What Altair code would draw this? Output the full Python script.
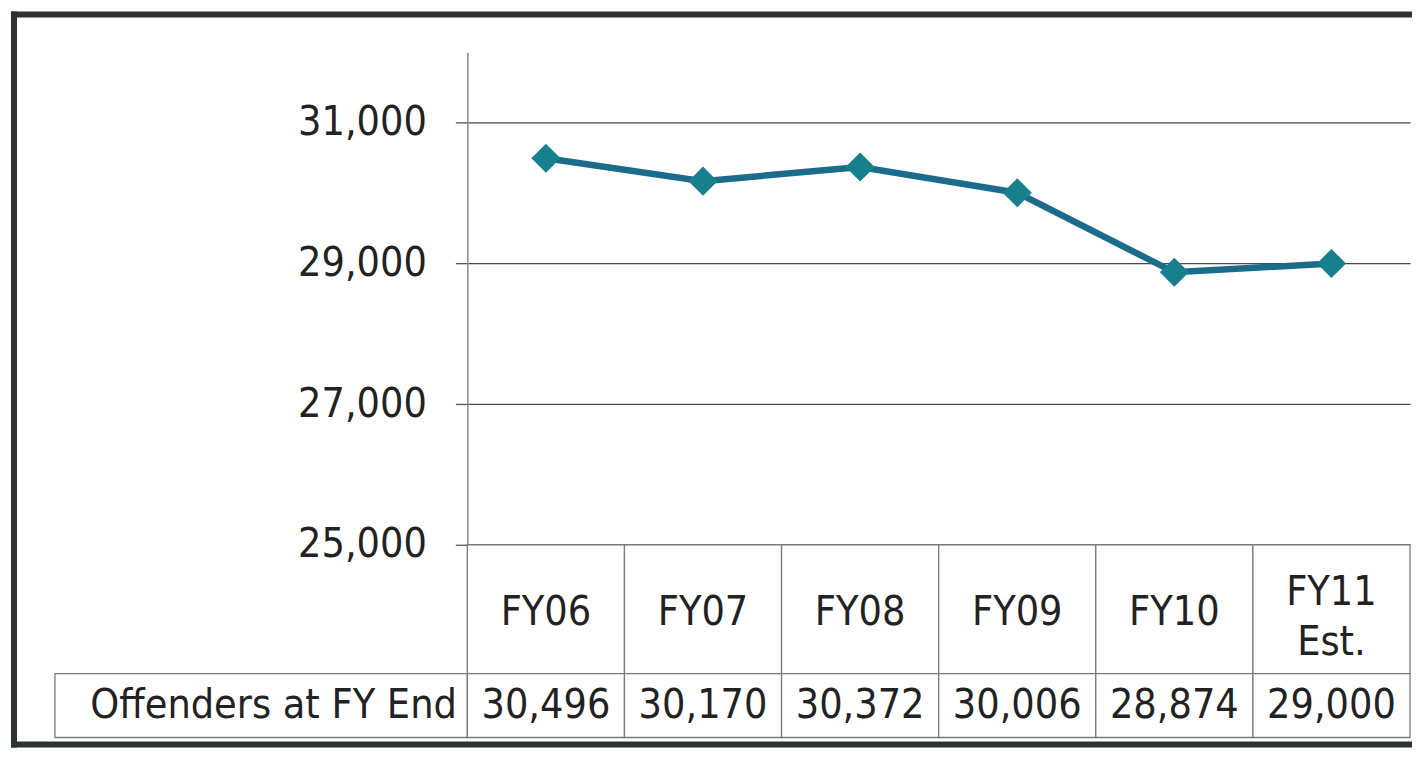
import altair as alt
import pandas as pd

# ---- data ----
categories = ["FY06", "FY07", "FY08", "FY09", "FY10", "FY11 Est."]
header_labels = ["FY06", "FY07", "FY08", "FY09", "FY10", "FY11\nEst."]
header_lines = [1, 1, 1, 1, 1, 2]
offenders = [30496, 30170, 30372, 30006, 28874, 29000]
y_ticks = [25000, 27000, 29000, 31000]
row_label = "Offenders at FY End"

df = pd.DataFrame({
    "cat": categories,
    "head": header_labels,
    "nlines": header_lines,
    "value": offenders,
    "row": [row_label] * len(categories),
})

# ---- style ----
FONT = "DejaVu Sans Condensed, Liberation Sans, sans-serif"
FS = 41
TXT = "#222222"
CELL = "#7a7a7a"
LINE_C = "#1b6c8a"
PT_C = "#17808d"
FRAME = "#2c3134"

W = 944
MAIN_H = 493
HEAD_H = 129
VAL_H = 64
TOTAL_H = MAIN_H + HEAD_H + VAL_H

band = alt.Scale(type="band", paddingInner=0, paddingOuter=0)

# ---- main line chart ----
xm = alt.X("cat:N", sort=categories, scale=alt.Scale(type="point", padding=0.5), axis=None)
ym = alt.Y(
    "value:Q",
    scale=alt.Scale(domain=[25000, 32000], nice=False, zero=False),
    axis=alt.Axis(
        values=y_ticks, format=",.0f", title=None, grid=True, gridColor="#4a4a4a",
        gridWidth=1.3, domainColor="#8a8a8a", domainWidth=1.5, tickColor="#555555",
        tickSize=12, tickWidth=1.3, labelFontSize=FS, labelFont=FONT,
        labelColor=TXT, labelPadding=29, labelLimit=0,
    ),
)
base = alt.Chart(df)
line = base.mark_line(color=LINE_C, strokeWidth=6.5).encode(x=xm, y=ym)
pts = base.mark_point(shape="diamond", filled=True, size=850, color=PT_C, opacity=1).encode(x=xm, y=ym)

one = pd.DataFrame({"k": [0]})
fr = alt.Chart(one)
top_rule = fr.mark_rule(color=FRAME, strokeWidth=6).encode(
    x=alt.value(-457), x2=alt.value(946), y=alt.value(-38))
left_rule = fr.mark_rule(color=FRAME, strokeWidth=6).encode(
    x=alt.value(-454), y=alt.value(-41), y2=alt.value(TOTAL_H + 10))
bot_rule = fr.mark_rule(color=FRAME, strokeWidth=6).encode(
    x=alt.value(-457), x2=alt.value(946), y=alt.value(TOTAL_H + 7))

main = alt.layer(top_rule, left_rule, bot_rule, line, pts).properties(width=W, height=MAIN_H)

# ---- header row of the data table ----
xb = alt.X("cat:N", sort=categories, scale=band, axis=None)
hb = alt.Chart(df)
head_cells = hb.mark_rect(fill="white", stroke=CELL, strokeWidth=1.3).encode(
    x=xb, y=alt.value(0), y2=alt.value(HEAD_H))
head_text1 = hb.transform_filter("datum.nlines == 1").mark_text(
    fontSize=FS, font=FONT, color=TXT, baseline="middle", dy=4).encode(x=xb, text="head:N")
head_text2 = hb.transform_filter("datum.nlines == 2").mark_text(
    fontSize=FS, font=FONT, color=TXT, baseline="middle", lineBreak="\n",
    lineHeight=50, dy=-16).encode(x=xb, text="head:N")
header = alt.layer(head_cells, head_text1, head_text2).properties(width=W, height=HEAD_H)

# ---- value row of the data table ----
yr = alt.Y("row:N", scale=band, axis=alt.Axis(
    title=None, ticks=False, domain=False, labelFontSize=FS, labelFont=FONT,
    labelColor=TXT, labelPadding=11, labelLimit=0))
vb = alt.Chart(df)
val_cells = vb.mark_rect(fill="white", stroke=CELL, strokeWidth=1.3).encode(x=xb, y=yr)
label_cell = alt.Chart(pd.DataFrame({"row": [row_label]})).mark_rect(
    fill=None, stroke=CELL, strokeWidth=1.3).encode(
    x=alt.value(-413), x2=alt.value(0), y=yr)
val_text = vb.mark_text(fontSize=FS, font=FONT, color=TXT, baseline="middle").encode(
    x=xb, y=yr, text=alt.Text("value:Q", format=",.0f"))
values = alt.layer(label_cell, val_cells, val_text).properties(width=W, height=VAL_H)

chart = alt.vconcat(main, header, values, spacing=0, bounds="flush").properties(
    padding=0, background="white"
).configure_view(stroke=None)

chart.save("out.html", embed_options={"renderer": "svg", "actions": False})
